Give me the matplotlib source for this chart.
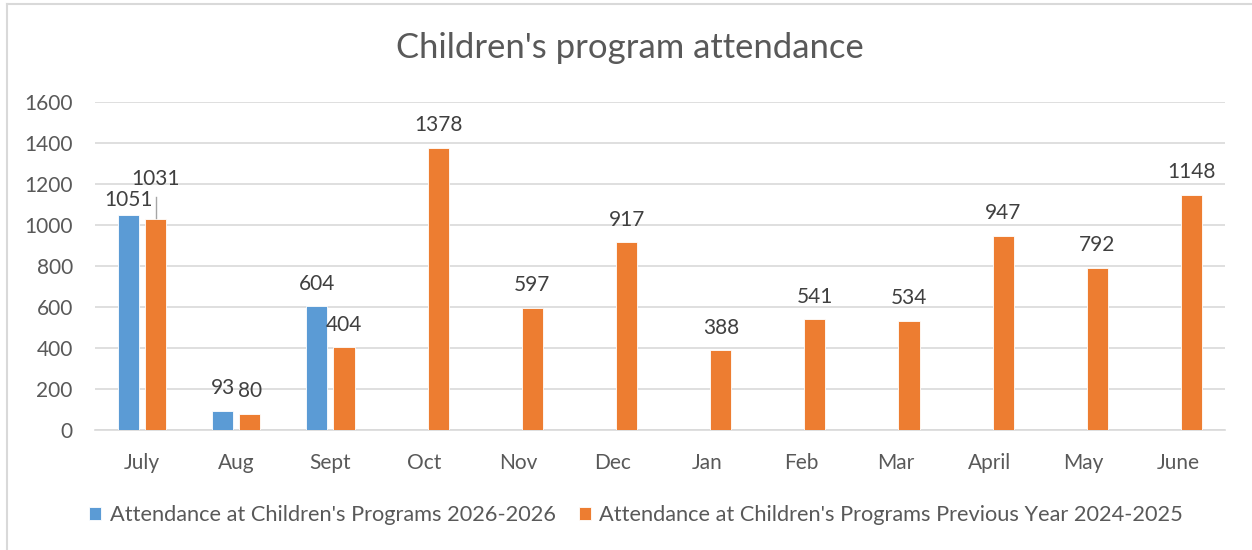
import numpy as np
import matplotlib.pyplot as plt
from matplotlib.lines import Line2D

months = ['July', 'Aug', 'Sept', 'Oct', 'Nov', 'Dec', 'Jan', 'Feb', 'Mar', 'April', 'May', 'June']
current = [1051, 93, 604]
previous = [1031, 80, 404, 1378, 597, 917, 388, 541, 534, 947, 792, 1148]
current_label = "Attendance at Children's Programs 2026-2026"
previous_label = "Attendance at Children's Programs Previous Year 2024-2025"
yticks = [0, 200, 400, 600, 800, 1000, 1200, 1400, 1600]

blue = '#5b9bd5'
orange = '#ed7d31'
gray = '#595959'

plt.rcParams['font.family'] = ['Lato', 'DejaVu Sans']

fig = plt.figure(figsize=(12.52, 5.5), dpi=100)
ax = fig.add_axes([95/1252, 120/550, 1130/1252, 328/550])

x = np.arange(len(months))
w = 0.225
off = 0.145
xc = x[:len(current)]
b1 = ax.bar(xc - off, current, w, color=blue, edgecolor='white', linewidth=0.6,
            label=current_label, zorder=3)
b2 = ax.bar(x + off, previous, w, color=orange, edgecolor='white', linewidth=0.6,
            label=previous_label, zorder=3)

# data labels
lab = dict(ha='center', va='bottom', fontsize=15, color='#404040', textcoords='offset points')
for i, v in enumerate(current):
    dy = 3 if i == 0 else 9
    ax.annotate(str(v), (xc[i] - off, v), xytext=(0, dy), **lab)
for i, v in enumerate(previous):
    if i == 0:
        # label moved up with a leader line
        ax.annotate(str(v), (x[i] + off, v), xytext=(0, 21.5), **lab)
        ax.plot([x[i] + off, x[i] + off], [v + 5, v + 105], color='#a6a6a6', lw=1, zorder=4)
    else:
        ax.annotate(str(v), (x[i] + off, v), xytext=(0, 9), **lab)

ax.set_xlim(-0.5, len(months) - 0.5)
ax.set_ylim(0, 1600)
ax.set_yticks(yticks)
ax.set_xticks(x)
ax.set_xticklabels(months)
ax.tick_params(axis='both', length=0, labelsize=15, labelcolor=gray)
ax.tick_params(axis='x', pad=16.5)
ax.tick_params(axis='y', pad=16)
ax.grid(axis='y', color='#d9d9d9', lw=1.2, zorder=0)
for s in ['top', 'right', 'left']:
    ax.spines[s].set_visible(False)
ax.spines['bottom'].set_color('#d9d9d9')
ax.spines['bottom'].set_linewidth(1.2)

fig.text(630/1252, 1 - 48/550, "Children's program attendance", ha='center', va='center',
         fontsize=24.9, color=gray)

leg = fig.legend(handles=[b1, b2], loc='center', bbox_to_anchor=(636/1252, 1 - 515/550),
                 ncol=2, frameon=False, fontsize=15.7, handlelength=0.55, handleheight=0.55,
                 handletextpad=0.4, columnspacing=1.05)
for t in leg.get_texts():
    t.set_color(gray)

# chart border
fig.add_artist(Line2D([7/1252, 7/1252], [0, 1 - 4/550], transform=fig.transFigure,
                      color='#d9d9d9', lw=1.5))
fig.add_artist(Line2D([7/1252, 1], [1 - 4/550, 1 - 4/550], transform=fig.transFigure,
                      color='#d9d9d9', lw=1.5))

fig.savefig('out.png', dpi=100)
